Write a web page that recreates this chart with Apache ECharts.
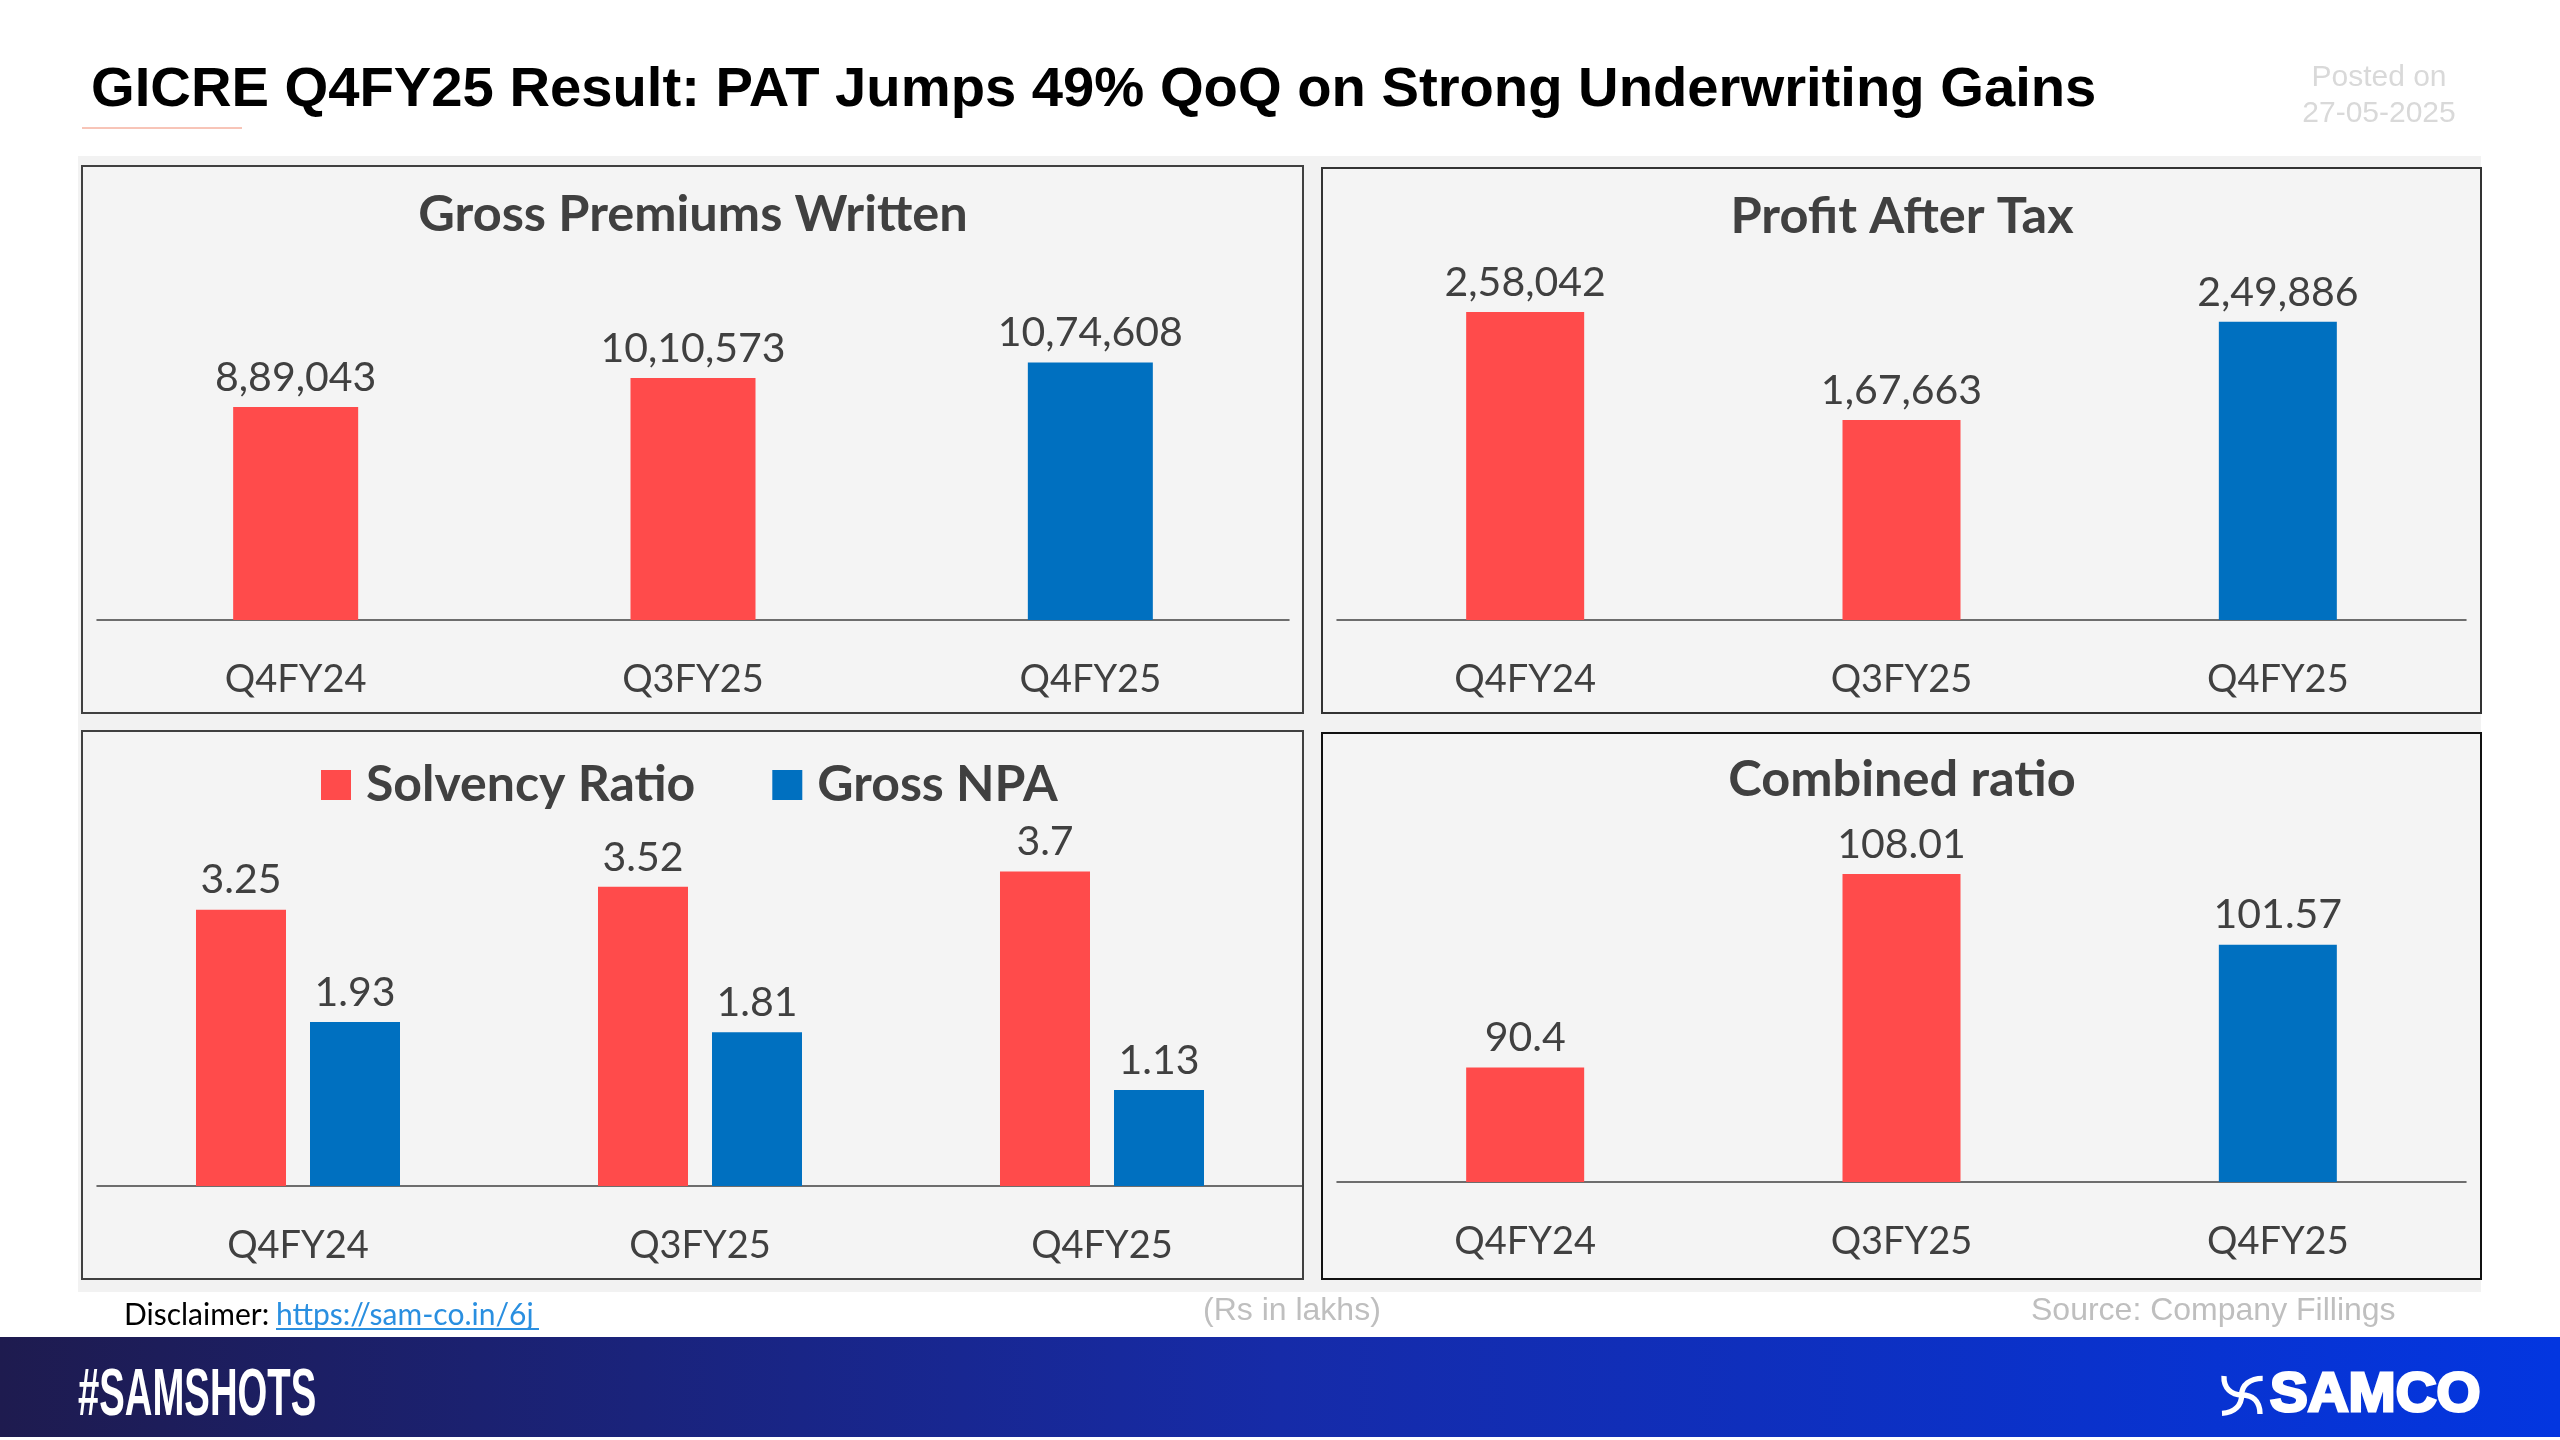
<!DOCTYPE html>
<html>
<head>
<meta charset="utf-8">
<style>
  html, body { margin: 0; padding: 0; background: #fff; }
  #main { width: 2560px; height: 1440px; }
</style>
<script src="https://cdn.jsdelivr.net/npm/echarts@6/dist/echarts.min.js"></script>
</head>
<body>
<div id="main"></div>
<script>
const categories = ['Q4FY24', 'Q3FY25', 'Q4FY25'];
const grossPremiums = [889043, 1010573, 1074608];
const profitAfterTax = [258042, 167663, 249886];
const solvencyRatio = [3.25, 3.52, 3.7];
const grossNpa = [1.93, 1.81, 1.13];
const combinedRatio = [90.4, 108.01, 101.57];

const RED = '#FF4B4B';
const BLUE = '#0070C0';
const DARK = '#404040';
const BODY_FONT = 'Lato';
const HEAD_FONT = '"Liberation Sans"';

const chart = echarts.init(document.getElementById('main'));

// last quarter is picked out in blue on the single series panels
const lastBlue = params => (params.dataIndex === categories.length - 1 ? BLUE : RED);
const lakhs = params => params.value.toLocaleString('en-IN');

const valueLabel = formatter => ({
  show: true,
  position: 'top',
  distance: 9,
  fontFamily: BODY_FONT,
  fontSize: 41,
  color: DARK,
  formatter: formatter || '{c}'
});

const grids = [
  { left: 97, top: 332.5, width: 1192, height: 287.5 },
  { left: 1337, top: 262, width: 1129, height: 358 },
  { left: 97, top: 761, width: 1206, height: 425 },
  { left: 1337, top: 742, width: 1129, height: 440 }
];
const yRanges = [
  { min: 0, max: 1200000 },
  { min: 0, max: 300000 },
  { min: 0, max: 5 },
  { min: 80, max: 120 }
];

const xAxis = grids.map((g, i) => ({
  type: 'category',
  gridIndex: i,
  data: categories,
  axisTick: { show: false },
  axisLine: { lineStyle: { color: DARK, width: 1.5 } },
  axisLabel: { fontFamily: BODY_FONT, fontSize: 38, color: DARK, margin: 41 }
}));
const yAxis = yRanges.map((r, i) => ({
  type: 'value',
  gridIndex: i,
  min: r.min,
  max: r.max,
  show: false,
  splitLine: { show: false }
}));

const panelTitle = (text, x, top) => ({
  text,
  left: x,
  top,
  padding: 0,
  textAlign: 'center',
  textStyle: { fontFamily: BODY_FONT, fontWeight: 'bold', fontSize: 50.5, color: DARK }
});

const panelBox = (x, y, w, h, color) => ({
  type: 'rect',
  silent: true,
  z: -5,
  shape: { x, y, width: w, height: h },
  style: { fill: '#F4F4F4', stroke: color, lineWidth: 2 }
});

const plainText = (text, x, y, font, fill, align) => ({
  type: 'text',
  silent: true,
  x,
  y,
  style: { text, font, fill, align: align || 'left', verticalAlign: 'middle' }
});

// one stroke of the logo mark, in the group's own units
const swirl = (x1, y1, cpx1, cpy1, cpx2, cpy2, x2, y2) => ({
  type: 'bezierCurve',
  silent: true,
  shape: { x1, y1, cpx1, cpy1, cpx2, cpy2, x2, y2 },
  style: { fill: 'none', stroke: '#fff', lineWidth: 16 }
});

const option = {
  animation: false,
  backgroundColor: '#fff',
  title: [
    {
      text: 'GICRE Q4FY25 Result: PAT Jumps 49% QoQ on Strong Underwriting Gains',
      left: 91,
      top: 63,
      padding: 0,
      textStyle: { fontFamily: HEAD_FONT, fontWeight: 'bold', fontSize: 56.2, color: '#000' }
    },
    panelTitle('Gross Premiums Written', 693, 189),
    panelTitle('Profit After Tax', 1902, 191),
    panelTitle('Combined ratio', 1902, 754)
  ],
  legend: {
    left: 321,
    top: 760,
    padding: 0,
    itemWidth: 30,
    itemHeight: 30,
    itemGap: 77,
    icon: 'rect',
    data: ['Solvency Ratio', 'Gross NPA'],
    textStyle: { fontFamily: BODY_FONT, fontWeight: 'bold', fontSize: 50, color: DARK, padding: [0, 0, 0, 10] }
  },
  grid: grids,
  xAxis,
  yAxis,
  series: [
    {
      type: 'bar', xAxisIndex: 0, yAxisIndex: 0, data: grossPremiums, barWidth: 125,
      itemStyle: { color: lastBlue }, label: valueLabel(lakhs)
    },
    {
      type: 'bar', xAxisIndex: 1, yAxisIndex: 1, data: profitAfterTax, barWidth: 118,
      itemStyle: { color: lastBlue }, label: valueLabel(lakhs)
    },
    {
      type: 'bar', name: 'Solvency Ratio', xAxisIndex: 2, yAxisIndex: 2, data: solvencyRatio,
      barWidth: 90, barGap: '26.67%', itemStyle: { color: RED }, label: valueLabel()
    },
    {
      type: 'bar', name: 'Gross NPA', xAxisIndex: 2, yAxisIndex: 2, data: grossNpa,
      barWidth: 90, barGap: '26.67%', itemStyle: { color: BLUE }, label: valueLabel()
    },
    {
      type: 'bar', xAxisIndex: 3, yAxisIndex: 3, data: combinedRatio, barWidth: 118,
      itemStyle: { color: lastBlue }, label: valueLabel()
    }
  ],
  graphic: {
    elements: [
      // page furniture
      {
        type: 'rect', silent: true, z: -10,
        shape: { x: 78, y: 156, width: 2403, height: 1136 },
        style: { fill: '#F2F2F2' }
      },
      panelBox(82, 166, 1221, 547, DARK),
      panelBox(1322, 168, 1159, 545, '#333'),
      panelBox(82, 731, 1221, 548, DARK),
      panelBox(1322, 733, 1159, 546, '#111'),
      {
        type: 'line', silent: true,
        shape: { x1: 82, y1: 128, x2: 242, y2: 128 },
        style: { stroke: '#F08A70', lineWidth: 1 }
      },
      plainText('Posted on', 2379, 78, '30px "Liberation Sans"', '#D9D9D9', 'center'),
      plainText('27-05-2025', 2379, 114, '30px "Liberation Sans"', '#D9D9D9', 'center'),
      plainText('Disclaimer:', 124, 1315, '30px Lato', '#000'),
      plainText('https://sam-co.in/6j', 276, 1315, '30px Lato', '#2A8FE0'),
      {
        type: 'line', silent: true,
        shape: { x1: 276, y1: 1329, x2: 539, y2: 1329 },
        style: { stroke: '#2A8FE0', lineWidth: 2 }
      },
      plainText('(Rs in lakhs)', 1203, 1311, '32px "Liberation Sans"', '#BFBFBF'),
      plainText('Source: Company Fillings', 2031, 1311, '32px "Liberation Sans"', '#BFBFBF'),
      // footer band
      {
        type: 'rect', silent: true,
        shape: { x: 0, y: 1337, width: 2560, height: 100 },
        style: {
          fill: new echarts.graphic.LinearGradient(0, 0, 1, 0, [
            { offset: 0, color: '#1E1B4F' },
            { offset: 0.5, color: '#162BA8' },
            { offset: 1, color: '#0336E0' }
          ])
        }
      },
      {
        type: 'text', silent: true, x: 78, y: 1397, scaleX: 0.58,
        style: {
          text: '#SAMSHOTS', font: 'bold 66px "Liberation Sans"', fill: '#fff',
          align: 'left', verticalAlign: 'middle'
        }
      },
      {
        type: 'group', silent: true, x: 2200, y: 1350, scaleX: 1 / 3, scaleY: 1 / 3,
        children: [
          swirl(72, 78, 70, 115, 95, 135, 125, 135),
          swirl(125, 135, 155, 135, 180, 150, 180, 192),
          swirl(188, 85, 150, 85, 125, 105, 125, 135),
          swirl(125, 135, 125, 165, 105, 188, 66, 190)
        ]
      },
      {
        type: 'text', silent: true, x: 2270, y: 1396, scaleX: 1.01,
        style: {
          text: 'SAMCO', font: 'bold 56px "Liberation Sans"', fill: '#fff',
          stroke: '#fff', lineWidth: 3, align: 'left', verticalAlign: 'middle'
        }
      }
    ]
  }
};

chart.setOption(option);
</script>
</body>
</html>
